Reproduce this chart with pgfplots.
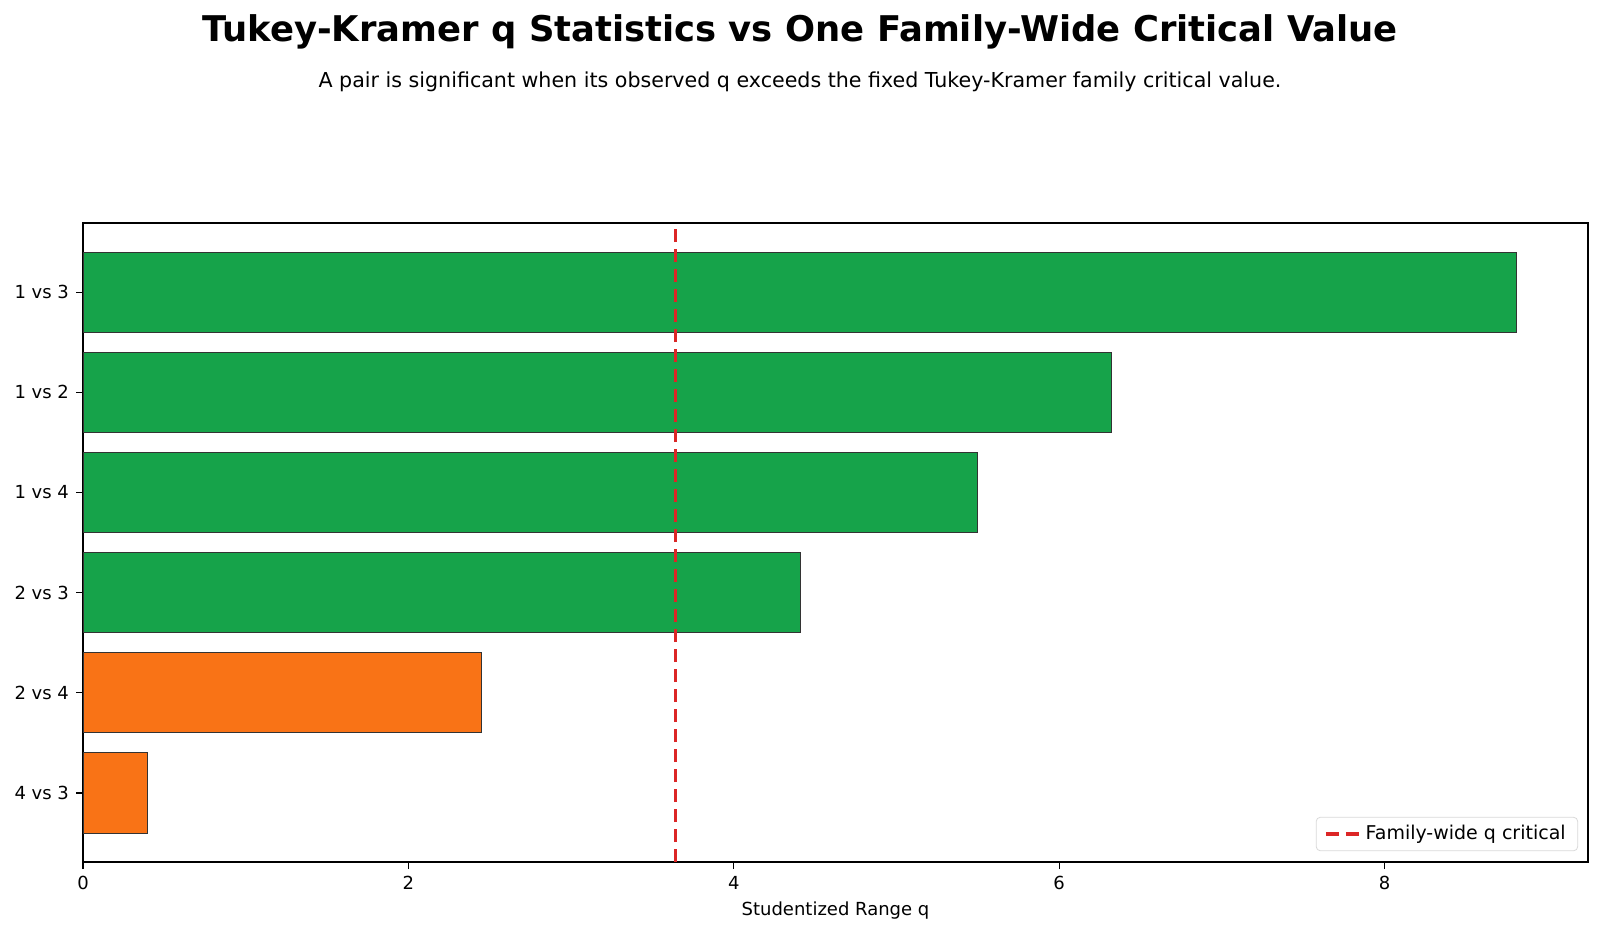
\documentclass[border=0pt]{standalone}
\usepackage{fontspec}
\setmainfont{DejaVu Sans}
\usepackage{pgfplots}
\pgfplotsset{compat=1.18}

\definecolor{sigGreen}{HTML}{16A34A}
\definecolor{nsOrange}{HTML}{F97316}
\definecolor{critRed}{HTML}{DC2626}
\definecolor{edgeGray}{HTML}{333333}

\begin{document}
\begin{tikzpicture}
\useasboundingbox (0pt,0pt) rectangle (800pt,-465.5pt);

\node[font=\bfseries\fontsize{17.7}{21}\selectfont] at (400pt,-15.8pt) {Tukey-Kramer q Statistics vs One Family-Wide Critical Value};
\node[font=\fontsize{10.3}{12.5}\selectfont] at (400pt,-40.8pt) {A pair is significant when its observed q exceeds the fixed Tukey-Kramer family critical value.};

\begin{axis}[
  at={(41.5pt,-431pt)}, anchor=south west,
  width=752.5pt, height=319.5pt, scale only axis,
  xmin=0, xmax=9.25, ymin=-0.69, ymax=5.69,
  xtick={0,2,4,6,8},
  ytick={0,1,2,3,4,5},
  yticklabels={4 vs 3,2 vs 4,2 vs 3,1 vs 4,1 vs 2,1 vs 3},
  tick align=outside, tick pos=left,
  major tick length=3.5pt,
  tick style={black, line width=0.6pt},
  axis line style={black, line width=0.7pt},
  /pgf/number format/assume math mode=true,
  tick label style={font=\fontsize{9}{11}\selectfont},
  xlabel={Studentized Range q},
  xlabel style={font=\fontsize{9}{11}\selectfont, at={(axis description cs:0.5,0)}, anchor=center, yshift=-24.5pt},
  legend style={at={(0.9934,0.017)}, anchor=south east, draw=black!15, rounded corners=2pt,
    font=\fontsize{9.5}{11}\selectfont, inner xsep=4pt, inner ysep=2pt, cells={anchor=west}},
  legend cell align=left,
  legend image code/.code={\draw[#1] (0pt,0pt) -- (17pt,0pt);},
]
% significant pairs
\addplot[xbar, bar width=0.8, bar shift=0pt, fill=sigGreen, draw=edgeGray, line width=0.4pt, forget plot] coordinates {
  (8.81,5) (6.32,4) (5.50,3) (4.41,2)
};
% non-significant pairs
\addplot[xbar, bar width=0.8, bar shift=0pt, fill=nsOrange, draw=edgeGray, line width=0.4pt, forget plot] coordinates {
  (2.45,1) (0.395,0)
};
% family-wide critical value
\addplot[critRed, line width=1.7pt, dash pattern=on 6.5pt off 3.5pt] coordinates {
  (3.64,-0.69) (3.64,5.69)
};
\addlegendentry{Family-wide q critical}
\end{axis}
\end{tikzpicture}
\end{document}
